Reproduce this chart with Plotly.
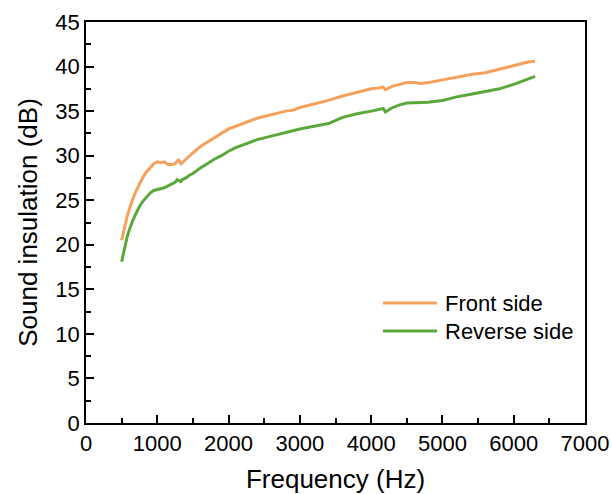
import plotly.graph_objects as go

freq_front = [500, 525, 550, 575, 600, 625, 650, 700, 750, 800, 850, 900, 950, 1000, 1050, 1100, 1150, 1200, 1250, 1280,
              1300, 1330, 1350, 1400, 1450, 1500, 1600, 1700, 1800, 1900, 2000, 2100, 2200, 2300, 2400, 2500, 2600,
              2700, 2800, 2900, 3000, 3200, 3400, 3600, 3800, 4000, 4100, 4170, 4200, 4300, 4400, 4500, 4600, 4700,
              4800, 5000, 5200, 5400, 5600, 5800, 6000, 6100, 6200, 6300]
front = [20.5, 21.5, 22.4, 23.1, 23.8, 24.5, 25.0, 26.0, 26.9, 27.6, 28.2, 28.7, 29.1, 29.3, 29.2, 29.3, 29.0, 29.0, 29.1, 29.4,
         29.5, 29.1, 29.2, 29.6, 30.0, 30.3, 31.0, 31.5, 32.0, 32.5, 33.0, 33.3, 33.6, 33.9, 34.2, 34.4, 34.6,
         34.8, 35.0, 35.1, 35.4, 35.8, 36.2, 36.7, 37.1, 37.5, 37.6, 37.7, 37.4, 37.8, 38.0, 38.2, 38.2, 38.1,
         38.2, 38.5, 38.8, 39.1, 39.3, 39.7, 40.1, 40.3, 40.5, 40.6]

freq_reverse = [500, 525, 550, 575, 600, 625, 650, 700, 750, 800, 850, 900, 950, 1000, 1050, 1100, 1150, 1200, 1250, 1280,
                1300, 1330, 1350, 1400, 1450, 1500, 1600, 1700, 1800, 1900, 2000, 2100, 2200, 2300, 2400, 2500, 2600,
                2700, 2800, 2900, 3000, 3200, 3400, 3600, 3800, 4000, 4100, 4170, 4200, 4300, 4400, 4500, 4600, 4700,
                4800, 5000, 5200, 5400, 5600, 5800, 6000, 6100, 6200, 6300]
reverse = [18.1, 19.1, 20.0, 20.8, 21.5, 22.1, 22.6, 23.5, 24.3, 24.9, 25.4, 25.8, 26.1, 26.2, 26.3, 26.4, 26.6, 26.8, 27.0, 27.3,
           27.2, 27.1, 27.3, 27.5, 27.8, 28.0, 28.6, 29.1, 29.6, 30.0, 30.5, 30.9, 31.2, 31.5, 31.8, 32.0, 32.2,
           32.4, 32.6, 32.8, 33.0, 33.3, 33.6, 34.3, 34.7, 35.0, 35.2, 35.3, 34.9, 35.4, 35.7, 35.9, 35.95, 36.0,
           36.0, 36.2, 36.6, 36.9, 37.2, 37.5, 38.0, 38.3, 38.6, 38.9]

series_names = ["Front side", "Reverse side"]
series_colors = ["#F5A15C", "#5BA83A"]

x_ticks = [0, 1000, 2000, 3000, 4000, 5000, 6000, 7000]
y_ticks = [0, 5, 10, 15, 20, 25, 30, 35, 40, 45]

FONT = "Liberation Sans, Arial, sans-serif"

fig = go.Figure()
fig.add_trace(go.Scatter(x=freq_front, y=front, mode="lines", name=series_names[0],
                         line=dict(color=series_colors[0], width=3), showlegend=False))
fig.add_trace(go.Scatter(x=freq_reverse, y=reverse, mode="lines", name=series_names[1],
                         line=dict(color=series_colors[1], width=3), showlegend=False))

axis_common = dict(showline=True, linecolor="black", linewidth=1.8, mirror=True,
                   ticks="inside", ticklen=8, tickwidth=1.8, tickcolor="black",
                   showgrid=False, zeroline=False, automargin=False,
                   tickfont=dict(family=FONT, size=22, color="black"))

fig.update_xaxes(range=[0, 7000], tickvals=x_ticks,
                 minor=dict(ticks="inside", ticklen=5, tickwidth=1.8, tickcolor="black", dtick=500, showgrid=False),
                 title=dict(text="Frequency (Hz)", font=dict(family=FONT, size=26, color="black"), standoff=17),
                 **axis_common)
fig.update_yaxes(range=[0, 45], tickvals=y_ticks,
                 minor=dict(ticks="inside", ticklen=5, tickwidth=1.8, tickcolor="black", dtick=2.5, showgrid=False),
                 title=dict(text="Sound insulation (dB)", font=dict(family=FONT, size=26, color="black"), standoff=10),
                 **axis_common)

# custom legend (paper coordinates)
PL, PR, PT, PB = 86, 585, 22, 423
def px_to_paper_x(px):
    return (px - PL) / (PR - PL)
def px_to_paper_y(py):
    return (PB - py) / (PB - PT)

legend_rows = [303, 331]
for name, color, row in zip(series_names, series_colors, legend_rows):
    fig.add_shape(type="line", xref="paper", yref="paper",
                  x0=px_to_paper_x(383), x1=px_to_paper_x(437),
                  y0=px_to_paper_y(row), y1=px_to_paper_y(row),
                  line=dict(color=color, width=3))
    fig.add_annotation(xref="paper", yref="paper", x=px_to_paper_x(443), y=px_to_paper_y(row),
                       xanchor="left", yanchor="middle", text=name, showarrow=False,
                       font=dict(family=FONT, size=22, color="black"))

fig.update_layout(
    width=612, height=494,
    margin=dict(l=PL, r=612 - PR, t=PT, b=494 - PB),
    plot_bgcolor="white", paper_bgcolor="white",
    showlegend=False,
)

fig.write_html("out.html", config={"displayModeBar": False},
               post_script="document.body.style.margin='0';document.body.style.overflow='hidden';")
